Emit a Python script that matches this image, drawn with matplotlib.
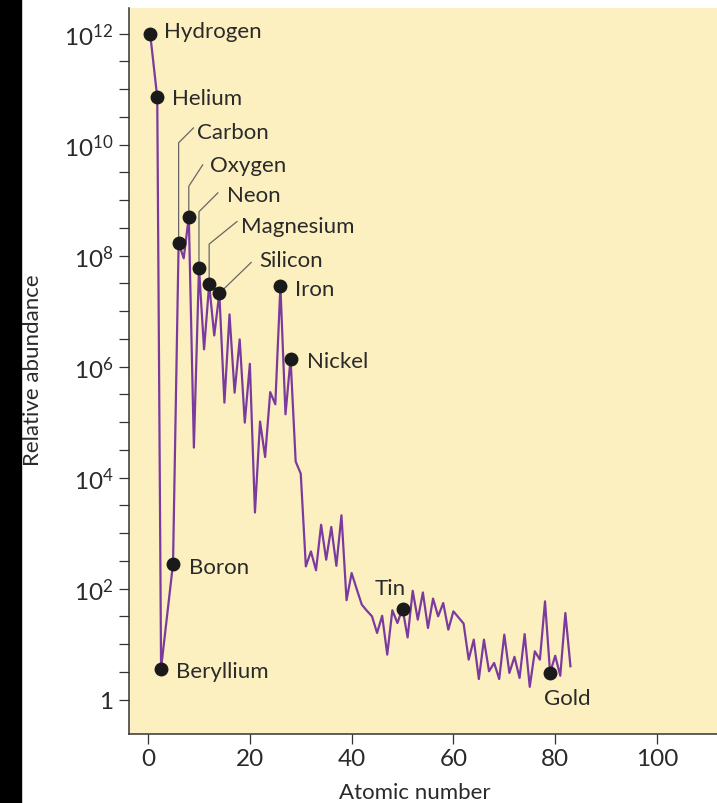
import numpy as np
import matplotlib
matplotlib.use("Agg")
import matplotlib.pyplot as plt
from matplotlib.patches import Rectangle
from matplotlib.ticker import FixedLocator, FixedFormatter, NullFormatter

plt.rcParams["font.family"] = ["Lato", "DejaVu Sans"]
plt.rcParams["mathtext.fontset"] = "custom"
plt.rcParams["mathtext.rm"] = "Lato"
plt.rcParams["mathtext.default"] = "regular"

# H, He, Be, B are drawn a little left of their integer positions
light_z = [0.4, 1.8, 2.55, 4.9]
light_log = [12.0, 10.85, 0.56, 2.45]

# carbon (6) through bismuth (83), log10 of abundance relative to H = 10^12
heavy_z = list(range(6, 84))
heavy_log = [8.23, 7.95, 8.70, 4.54, 7.78, 6.31, 7.48, 6.56, 7.32, 5.35,
             6.94, 5.53, 6.49, 4.99, 6.05, 3.37, 5.01, 4.37, 5.54, 5.32,
             7.45, 5.14, 6.14, 4.29, 4.07, 2.40, 2.67, 2.33, 3.15, 2.52,
             3.11, 2.41, 3.32, 1.79, 2.28, 1.99, 1.71, 1.60, 1.50, 1.20,
             1.51, 0.81, 1.61, 1.38, 1.64, 1.12, 1.96, 1.44, 1.93, 1.29,
             1.82, 1.50, 1.74, 1.26, 1.59, 1.48, 1.37, 0.72, 1.08, 0.37,
             1.08, 0.51, 0.66, 0.37, 1.17, 0.48, 0.77, 0.39, 1.18, 0.23,
             0.87, 0.72, 1.77, 0.48, 0.79, 0.43, 1.56, 0.60]

z = light_z + heavy_z
abundance = 10.0 ** np.array(light_log + heavy_log)

# marked elements: name, position in z, label offset (px), alignment
marked = ["Hydrogen", "Helium", "Beryllium", "Boron", "Carbon", "Oxygen",
          "Neon", "Magnesium", "Silicon", "Iron", "Nickel", "Tin", "Gold"]
marked_z = [0.4, 1.8, 2.55, 4.9, 6, 8, 10, 12, 14, 26, 28, 50, 79]
label_dx = [14, 15, 15, 16, 18, 21, 28, 32, 40, 15, 16, -12, 17]
label_dy = [-3, -7, -8, -9, 105, 46, 67, 52, 27, -9, -8, 15, -31]
label_ha = ["left"] * 11 + ["center", "center"]

# leader lines: end point relative to marker (px) and slope of the diagonal
leader_names = ["Carbon", "Oxygen", "Neon", "Magnesium", "Silicon"]
leader_end = [(15, 115), (14, 52), (19, 75), (28, 63), (32, 31)]
leader_angle = [45, 57, 45, 39, None]

purple = "#7b3b9e"
ink = "#2a2a2a"

fig = plt.figure(figsize=(7.17, 8.04), dpi=100)
fig.patches.append(Rectangle((0, 0), 21 / 717, 1, transform=fig.transFigure,
                             color="black", zorder=0))
ax = fig.add_axes([128.5 / 717, 1 - 735 / 804, 1 - 128.5 / 717, 726 / 804])
ax.set_facecolor("#fdf0c0")

ax.plot(z, abundance, color=purple, lw=1.6, zorder=3)

for name, mz in zip(marked, marked_z):
    i = z.index(mz)
    ax.plot(z[i], abundance[i], "o", color="#1a1a1a", ms=9, zorder=5)

for name, mz, dx, dy, ha in zip(marked, marked_z, label_dx, label_dy, label_ha):
    i = z.index(mz)
    ax.annotate(name, xy=(z[i], abundance[i]), xytext=(dx, dy),
                textcoords="offset pixels", ha=ha, va="baseline",
                fontsize=16, color=ink, zorder=6)

for name, end, ang in zip(leader_names, leader_end, leader_angle):
    i = z.index(marked_z[marked.index(name)])
    if ang is None:
        style = "arc3,rad=0"
    else:
        style = "angle,angleA=%d,angleB=90,rad=0" % ang
    ax.annotate("", xy=(z[i], abundance[i]), xytext=end,
                textcoords="offset pixels",
                arrowprops=dict(arrowstyle="-", color="#666666", lw=0.9,
                                shrinkA=0, shrinkB=0, connectionstyle=style),
                zorder=2)

ax.set_yscale("log")
ax.set_ylim(10 ** -0.62, 10 ** 12.46)
ax.set_xlim(-3.85, 111.8)

major = [10.0 ** k for k in range(0, 13, 2)]
major_labels = ["1"] + ["10$^{%d}$" % k for k in range(2, 13, 2)]
ax.yaxis.set_major_locator(FixedLocator(major))
ax.yaxis.set_major_formatter(FixedFormatter(major_labels))
ax.yaxis.set_minor_locator(FixedLocator(10.0 ** np.arange(0.5, 12.0, 0.5)))
ax.yaxis.set_minor_formatter(NullFormatter())

ax.set_xticks(range(0, 101, 20))

for side in ["top", "right"]:
    ax.spines[side].set_visible(False)
for side in ["left", "bottom"]:
    ax.spines[side].set_color("#333333")
    ax.spines[side].set_linewidth(1.1)

ax.tick_params(axis="both", which="both", direction="out", length=7,
               width=0.9, color="#333333", labelcolor=ink, labelsize=17.5)
ax.tick_params(axis="y", which="both", pad=4)
ax.tick_params(axis="x", pad=3)

fig.text(33 / 717, 1 - 370 / 804, "Relative abundance", rotation=90,
         ha="center", va="center", fontsize=16, color=ink)
fig.text(415 / 717, 1 - 793 / 804, "Atomic number", ha="center",
         va="center", fontsize=16, color=ink)

fig.savefig("out.png", dpi=100)
